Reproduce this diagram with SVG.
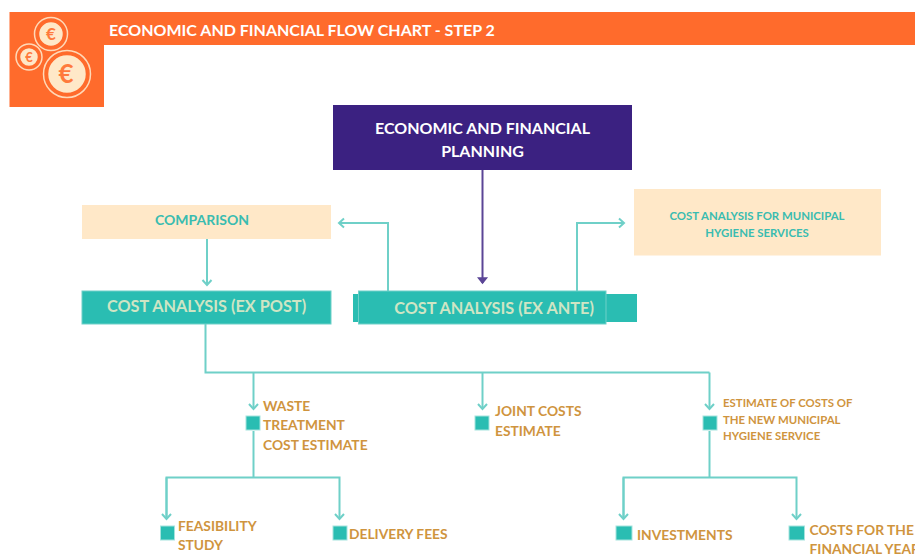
<svg xmlns="http://www.w3.org/2000/svg" width="915" height="554" viewBox="0 0 915 554">
<style>
text{font-family:Lato,"Liberation Sans",sans-serif;font-weight:700}
.c{fill:none;stroke:#6fd0c8;stroke-width:2}
.p{fill:none;stroke:#5b4596;stroke-width:2}
.or{font-size:13.8px;fill:#cf943e}
.sm{font-size:11.400px;fill:#cf943e}
.sq{fill:#2abdb2;stroke:#a5e3de;stroke-width:1}
.tl{fill:#2abdb2;stroke:#6fd0c8;stroke-width:1}
.tt{font-size:16.300px;fill:#cfe5c4;text-anchor:middle}
.coin{fill:#ffe8c8;stroke:#ff6b2c;stroke-width:1.5}
.ring{fill:none;stroke:#ffd9b8;stroke-width:1.5}
.eu{fill:#ff7a3c;text-anchor:middle}
</style>
<defs>
<marker id="a" markerWidth="12" markerHeight="12" refX="8" refY="6" orient="auto" markerUnits="userSpaceOnUse"><path d="M3 1.500L8 6L3 10.500" fill="none" stroke="#6fd0c8" stroke-width="2"/></marker>
<marker id="b" markerWidth="12" markerHeight="12" refX="8" refY="6" orient="auto" markerUnits="userSpaceOnUse"><path d="M3 2L8 6L3 10Z" fill="#5b4596" stroke="#5b4596" stroke-width="1.500"/></marker>
</defs>
<g id="header">
<path d="M9.500 12H915V45H104V107H9.500Z" fill="#ff6b2c"/>
<circle class="ring" cx="51" cy="34" r="16.500"/><circle class="coin" cx="51" cy="34" r="12.500"/><text class="eu" x="51" y="40" font-size="17">€</text>
<circle class="ring" cx="29" cy="57" r="13"/><circle class="coin" cx="29" cy="57" r="9.500"/><text class="eu" x="29" y="62" font-size="13">€</text>
<circle class="ring" cx="67" cy="74" r="23.500"/><circle class="coin" cx="67" cy="74" r="19.500"/><text class="eu" x="66" y="83" font-size="26">€</text>
<text x="109" y="36" font-size="16" fill="#fff">ECONOMIC AND FINANCIAL FLOW CHART - STEP 2</text>
</g>
<g id="connectors">
<path class="p" d="M482.500 170V283" marker-end="url(#b)"/>
<path class="c" d="M388 291V223H339" marker-end="url(#a)"/>
<path class="c" d="M577 291V223H624" marker-end="url(#a)"/>
<path class="c" d="M207 238V285" marker-end="url(#a)"/>
<path class="c" d="M205.500 324V372.500H709.500"/>
<path class="c" d="M253.500 372.500V409" marker-end="url(#a)"/>
<path class="c" d="M482.500 372.500V409" marker-end="url(#a)"/>
<path class="c" d="M709.500 372.500V409" marker-end="url(#a)"/>
<path class="c" d="M253.500 431V477.500"/>
<path class="c" d="M166.500 519V477.500H339.500V519" marker-end="url(#a)"/>
<path class="c" d="M166.500 477.500V519" marker-end="url(#a)"/>
<path class="c" d="M709.500 431V477.500"/>
<path class="c" d="M623.500 519V477.500H796.500V519" marker-end="url(#a)"/>
<path class="c" d="M623.500 477.500V519" marker-end="url(#a)"/>
</g>
<g id="planning">
<rect x="333" y="105" width="299" height="65" fill="#3b2181"/>
<text x="482.500" y="134" font-size="16" fill="#fff" text-anchor="middle">ECONOMIC AND FINANCIAL</text>
<text x="482.500" y="157" font-size="16" fill="#fff" text-anchor="middle">PLANNING</text>
</g>
<g id="comparison">
<rect x="82" y="205" width="249" height="34" fill="#ffe8c8"/>
<text x="202" y="225" font-size="14" fill="#3abcb0" text-anchor="middle">COMPARISON</text>
</g>
<g id="municipal">
<rect x="634" y="189" width="247" height="66.500" fill="#ffe8c8"/>
<text x="757" y="220" font-size="11.400" fill="#3abcb0" text-anchor="middle">COST ANALYSIS FOR MUNICIPAL</text>
<text x="757" y="237" font-size="11.400" fill="#3abcb0" text-anchor="middle">HYGIENE SERVICES</text>
</g>
<g id="expost">
<rect class="tl" x="82" y="291" width="249" height="33"/>
<text class="tt" x="206.500" y="312">COST ANALYSIS (EX POST)</text>
</g>
<g id="exante">
<rect x="353" y="294" width="284" height="28" fill="#2abdb2"/>
<rect class="tl" x="358.500" y="291" width="247.500" height="33"/>
<text class="tt" x="494" y="314">COST ANALYSIS (EX ANTE)</text>
</g>
<g id="waste">
<rect class="sq" x="246" y="416" width="14" height="14"/>
<text class="or" x="263" y="411">WASTE</text><text class="or" x="263" y="430">TREATMENT</text><text class="or" x="263" y="450">COST ESTIMATE</text>
</g>
<g id="joint">
<rect class="sq" x="475" y="416" width="14" height="14"/>
<text class="or" x="495" y="416">JOINT COSTS</text><text class="or" x="495" y="436">ESTIMATE</text>
</g>
<g id="newservice">
<rect class="sq" x="703" y="416" width="14" height="14"/>
<text class="sm" x="723" y="407">ESTIMATE OF COSTS OF</text><text class="sm" x="723" y="424">THE NEW MUNICIPAL</text><text class="sm" x="723" y="440">HYGIENE SERVICE</text>
</g>
<g id="feasibility">
<rect class="sq" x="160.500" y="526" width="14" height="14"/>
<text class="or" x="178" y="531">FEASIBILITY</text><text class="or" x="178" y="550">STUDY</text>
</g>
<g id="delivery">
<rect class="sq" x="333" y="526" width="14" height="14"/>
<text class="or" x="349" y="539">DELIVERY FEES</text>
</g>
<g id="investments">
<rect class="sq" x="616" y="526" width="16" height="14"/>
<text class="or" x="637" y="540">INVESTMENTS</text>
</g>
<g id="costsyear">
<rect class="sq" x="789" y="526" width="15.500" height="14"/>
<text class="or" x="809.500" y="535">COSTS FOR THE</text><text class="or" x="809.500" y="554">FINANCIAL YEAR</text>
</g>
</svg>
